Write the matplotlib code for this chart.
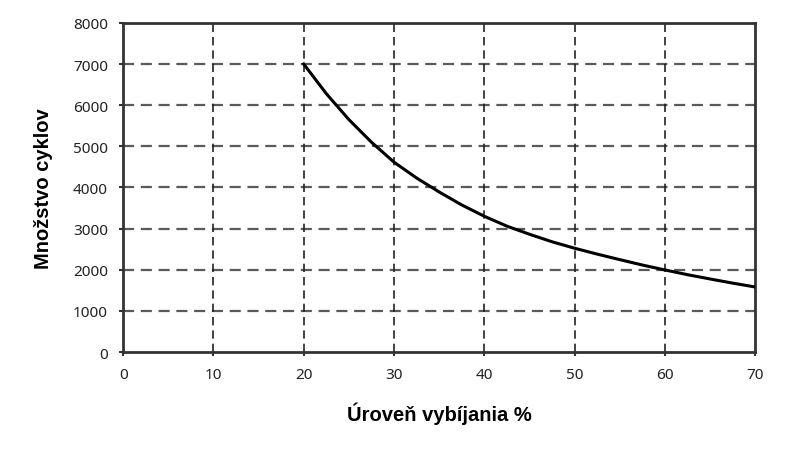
import numpy as np
import matplotlib.pyplot as plt

# values
uroven = [20, 22.5, 25, 27.5, 30, 32.5, 35, 37.5, 40, 42.5, 45,
          47.5, 50, 52.5, 55, 57.5, 60, 62.5, 65, 67.5, 70]
cykly = [7000, 6280, 5650, 5100, 4615, 4230, 3890, 3575, 3300, 3060, 2863,
         2680, 2523, 2380, 2246, 2115, 1995, 1880, 1776, 1675, 1581]

x_ticks = [0, 10, 20, 30, 40, 50, 60, 70]
y_ticks = [0, 1000, 2000, 3000, 4000, 5000, 6000, 7000, 8000]

fig = plt.figure(figsize=(8, 4.52), dpi=100)
ax = fig.add_axes([0.154, 0.219, 0.79, 0.728])

for yv in y_ticks[1:-1]:
    ax.axhline(yv, color='#5a5a5a', linestyle=(0, (5, 3)), linewidth=1.6, zorder=1)
for xv in x_ticks[1:-1]:
    ax.axvline(xv, color='#222222', linestyle=(0, (5, 3)), linewidth=1.2, zorder=1)

ax.plot(uroven, cykly, color='black', linewidth=2.2, zorder=3,
        solid_joinstyle='round')

ax.set_xlim(0, 70)
ax.set_ylim(0, 8000)
ax.set_xticks(x_ticks)
ax.set_yticks(y_ticks)
ax.tick_params(axis='both', direction='out', length=3, width=1.5, color='#333333',
               labelsize=11, labelcolor='#222222', pad=8)
for lab in ax.get_xticklabels() + ax.get_yticklabels():
    lab.set_family(['Noto Sans', 'DejaVu Sans'])

for side in ['left', 'right', 'top', 'bottom']:
    ax.spines[side].set_color('#333333')
    ax.spines[side].set_linewidth(2)

ax.set_xlabel('Úroveň vybíjania %', fontsize=14.5, fontweight='bold',
              family=['Liberation Sans', 'DejaVu Sans'], labelpad=14)
ax.set_ylabel('Množstvo cyklov', fontsize=14.5, fontweight='bold',
              family=['Liberation Sans', 'DejaVu Sans'], labelpad=14)

fig.savefig('out.png', dpi=100, facecolor='white')
